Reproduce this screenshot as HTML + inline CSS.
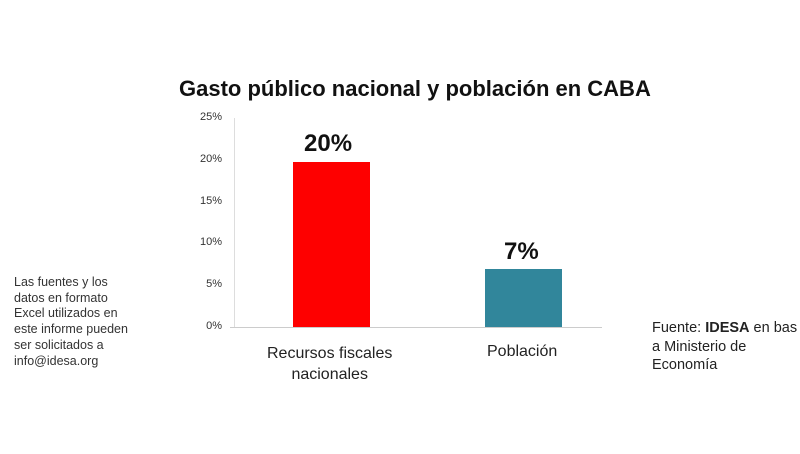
<!DOCTYPE html>
<html><head><meta charset="utf-8"><style>
body{margin:0;width:800px;height:454px;background:#fff;position:relative;overflow:hidden;font-family:"Liberation Sans",sans-serif;}
.a{position:absolute;white-space:nowrap}
.t{font-size:11px;color:#333;text-align:right;width:30px;left:192px}
</style></head><body>
<div class="a" style="left:179px;top:76px;font-size:22px;font-weight:bold;color:#111">Gasto público nacional y población en CABA</div>
<div class="a t" style="top:111px">25%</div>
<div class="a t" style="top:153px">20%</div>
<div class="a t" style="top:195px">15%</div>
<div class="a t" style="top:236px">10%</div>
<div class="a t" style="top:278px">5%</div>
<div class="a t" style="top:320px">0%</div>
<div class="a" style="left:234px;top:118px;width:1px;height:210px;background:#ddd"></div>
<div class="a" style="left:230px;top:327px;width:372px;height:1px;background:#ccc"></div>
<div class="a" style="left:293px;top:162px;width:77px;height:165px;background:#fe0000"></div>
<div class="a" style="left:485px;top:269px;width:77px;height:58px;background:#31869b"></div>
<div class="a" style="left:304px;top:130px;font-size:24px;font-weight:bold;color:#111">20%</div>
<div class="a" style="left:504px;top:238px;font-size:24px;font-weight:bold;color:#111">7%</div>
<div class="a" style="left:267px;top:343px;font-size:16px;color:#222;text-align:center;line-height:21px">Recursos fiscales<br>nacionales</div>
<div class="a" style="left:487px;top:343px;font-size:16px;color:#222">Población</div>
<div class="a" style="left:14px;top:275px;font-size:12.5px;color:#333;line-height:15.7px">Las fuentes y los<br>datos en formato<br>Excel utilizados en<br>este informe pueden<br>ser solicitados a<br>info@idesa.org</div>
<div class="a" style="left:652px;top:319px;font-size:14.5px;color:#222;line-height:18.5px">Fuente: <b>IDESA</b> en bas<br>a Ministerio de<br>Economía</div>
</body></html>
